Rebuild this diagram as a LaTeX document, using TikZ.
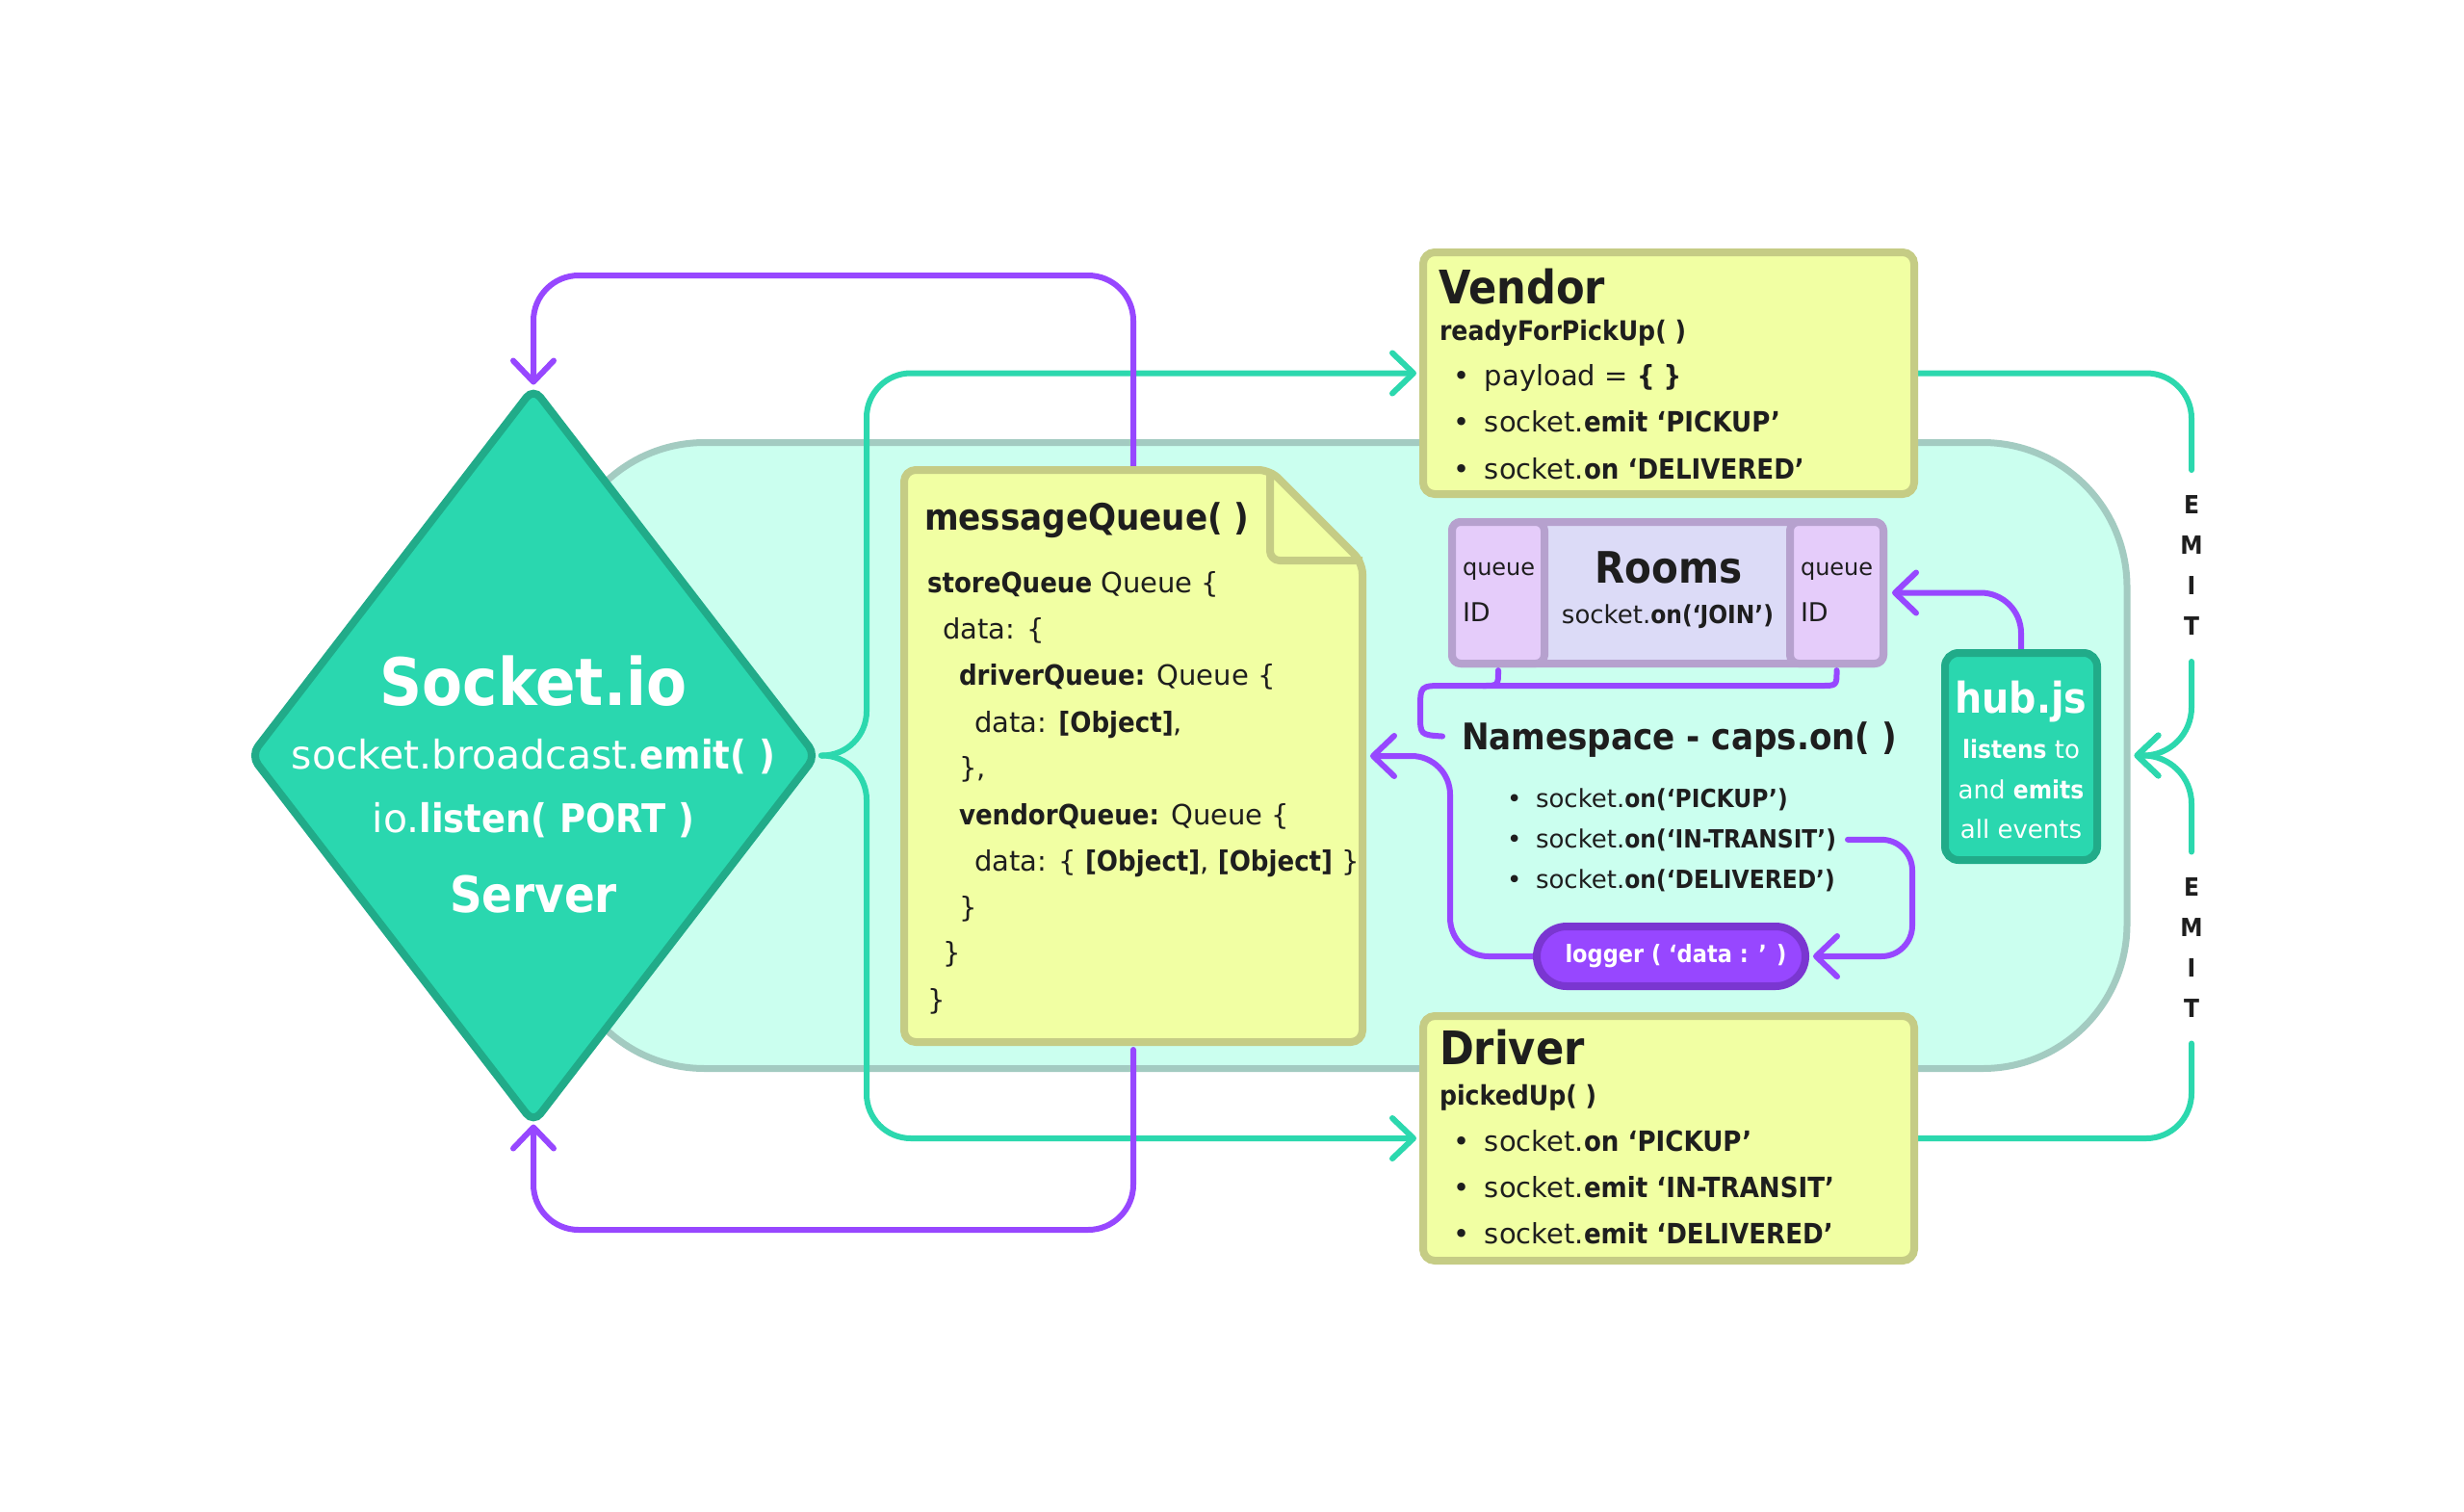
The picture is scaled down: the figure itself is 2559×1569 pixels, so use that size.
\documentclass[tikz,border=0pt]{standalone}
\usepackage{fontspec}
\setmainfont{DejaVu Sans}[BoldFont={DejaVu Sans Bold},BoldFeatures={FakeStretch=0.9}]
\usetikzlibrary{shapes.geometric,arrows.meta,calc}
\definecolor{tealf}{HTML}{2AD7AF}
\definecolor{teald}{HTML}{21AB89}
\definecolor{grnc}{HTML}{2CD8AE}
\definecolor{cyanbg}{HTML}{CBFFEF}
\definecolor{cyanbd}{HTML}{A3CBC1}
\definecolor{yelf}{HTML}{F1FFA3}
\definecolor{yeld}{HTML}{C5CC85}
\definecolor{purc}{HTML}{9747FF}
\definecolor{purd}{HTML}{7A36D1}
\definecolor{roomf}{HTML}{DCDBF7}
\definecolor{roomside}{HTML}{E5CCFA}
\definecolor{roomd}{HTML}{B6A1CE}
\definecolor{txtc}{HTML}{1E1E1E}
\pgfdeclarelayer{bgA}
\pgfdeclarelayer{bgB}
\pgfsetlayers{bgA,bgB,main}
\newcommand\myfs[1]{\fontsize{#1}{#1}\selectfont}
\tikzset{
 dtxt/.style={inner sep=0pt, outer sep=0pt, anchor=base west, text=txtc},
 wtxt/.style={inner sep=0pt, outer sep=0pt, anchor=base, text=white},
 ybox/.style={draw=yeld, fill=yelf, line width=8pt, rounded corners=12pt, inner sep=0pt},
 rbox/.style={draw=roomd, line width=8pt, rounded corners=9pt, inner sep=0pt},
 gline/.style={draw=grnc, line width=6pt, line cap=round, line join=round},
 pline/.style={draw=purc, line width=6pt, line cap=round, line join=round},
 barb/.style={-{Straight Barb[length=22pt,width=42pt,round]}},
 emitlbl/.style={inner sep=0pt, outer sep=0pt, minimum height=199pt, align=center, text=txtc, font=\fontsize{26}{42}\selectfont\bfseries}
}
\begin{document}
\begin{tikzpicture}[x=1pt,y=-1pt]
\begin{pgfonlayer}{bgA}
\fill[white] (0,0) rectangle (2559,1569);
\node[draw=cyanbd, fill=cyanbg, line width=7pt, rounded corners=150pt, minimum width=1627pt, minimum height=650pt, inner sep=0pt] (ns) at (1395.5,784.5) {};
\end{pgfonlayer}
\useasboundingbox (0,0) rectangle (2559,1569);

% ---------- Socket.io server ----------
\node[diamond, draw=teald, fill=tealf, line width=8pt, minimum width=590pt, minimum height=766pt, inner sep=0pt, rounded corners=12pt] (diamond) at (554,784.5) {};
\node[wtxt] (sio) at (554,732) {\myfs{68}\bfseries Socket.io};
\node[wtxt] (sbe) at (554,798) {\myfs{41}socket.broadcast.\textbf{emit( )}};
\node[wtxt] (iol) at (554,864) {\myfs{41}io.\textbf{listen( PORT )}};
\node[wtxt] (srv) at (554,947) {\myfs{52}\bfseries Server};

% ---------- messageQueue ----------
\node[inner sep=0pt, outer sep=0pt, minimum width=484pt, minimum height=602pt] (mq) at (1177,785) {};
\draw[draw=yeld, fill=yelf, line width=8pt, rounded corners=12pt, line join=round]
  ($(mq.north west)+(4,4)$) -- ($(mq.north east)+(-100,4)$) -- ($(mq.north east)+(-4,100)$)
  -- ($(mq.south east)+(-4,-4)$) -- ($(mq.south west)+(4,-4)$) -- cycle;
\draw[draw=yeld, line width=8pt, rounded corners=10pt, line join=round]
  ($(mq.north east)+(-100,4)$) -- ($(mq.north east)+(-100,98)$) -- ($(mq.north east)+(-4,98)$);
\node[dtxt] (mqt) at (960,550) {\myfs{38}\bfseries messageQueue( )};
\node[dtxt] (mq1) at (963,615) {\myfs{29}\textbf{storeQueue} Queue \{};
\node[dtxt] (mq2) at (979,663) {\myfs{29}data: \{};
\node[dtxt] (mq3) at (996,711) {\myfs{29}\textbf{driverQueue:} Queue \{};
\node[dtxt] (mq4) at (1012,760) {\myfs{29}data: \textbf{[Object]},};
\node[dtxt] (mq5) at (996,807) {\myfs{29}\},};
\node[dtxt] (mq6) at (996,856) {\myfs{29}\textbf{vendorQueue:} Queue \{};
\node[dtxt] (mq7) at (1012,904) {\myfs{29}data: \{ \textbf{[Object]}, \textbf{[Object]} \}};
\node[dtxt] (mq8) at (996,952) {\myfs{29}\}};
\node[dtxt] (mq9) at (979,999) {\myfs{29}\}};
\node[dtxt] (mq10) at (963,1048) {\myfs{29}\}};

% ---------- Vendor ----------
\node[ybox, minimum width=510pt, minimum height=251pt] (vendor) at (1733,387.5) {};
\node[dtxt] (vt) at (1494,315) {\myfs{48}\bfseries Vendor};
\node[dtxt] (vf) at (1495,353) {\myfs{28}\bfseries readyForPickUp( )};
\node[dtxt] (vb1) at (1509.5,400) {\myfs{29}\makebox[32.5pt][l]{•}payload = \textbf{\{ \}}};
\node[dtxt] (vb2) at (1509.5,448) {\myfs{29}\makebox[32.5pt][l]{•}socket.\textbf{emit ‘PICKUP’}};
\node[dtxt] (vb3) at (1509.5,497) {\myfs{29}\makebox[32.5pt][l]{•}socket.\textbf{on ‘DELIVERED’}};

% ---------- Driver ----------
\node[ybox, minimum width=510pt, minimum height=254pt] (driver) at (1733,1182) {};
\node[dtxt] (dt) at (1495,1105) {\myfs{48}\bfseries Driver};
\node[dtxt] (df) at (1495,1147) {\myfs{28}\bfseries pickedUp( )};
\node[dtxt] (db1) at (1509.5,1195) {\myfs{29}\makebox[32.5pt][l]{•}socket.\textbf{on ‘PICKUP’}};
\node[dtxt] (db2) at (1509.5,1243) {\myfs{29}\makebox[32.5pt][l]{•}socket.\textbf{emit ‘IN-TRANSIT’}};
\node[dtxt] (db3) at (1509.5,1291) {\myfs{29}\makebox[32.5pt][l]{•}socket.\textbf{emit ‘DELIVERED’}};

% ---------- Rooms ----------
\node[rbox, fill=roomf, minimum width=448pt, minimum height=147pt] (rooms) at (1732,615.5) {};
\node[rbox, fill=roomside, minimum width=96pt, minimum height=147pt] (lpanel) at (1556,615.5) {};
\node[rbox, fill=roomside, minimum width=97pt, minimum height=147pt] (rpanel) at (1907.5,615.5) {};
\node[dtxt, anchor=base] (roomt) at (1733,605) {\myfs{45}\bfseries Rooms};
\node[dtxt, anchor=base] (roomj) at (1732,647) {\myfs{26}socket.\textbf{on(‘JOIN’)}};
\node[dtxt] (lq) at (1519,597) {\myfs{24}queue};
\node[dtxt] (lid) at (1519,645) {\myfs{27}ID};
\node[dtxt] (rq) at (1870,597) {\myfs{24}queue};
\node[dtxt] (rid) at (1870,645) {\myfs{27}ID};

% ---------- Namespace ----------
\node[dtxt] (nstitle) at (1518,778) {\myfs{38}\bfseries Namespace - caps.on( )};
\node[dtxt] (nsb1) at (1565,838) {\myfs{26}\makebox[30pt][l]{•}socket.\textbf{on(‘PICKUP’)}};
\node[dtxt] (nsb2) at (1565,880) {\myfs{26}\makebox[30pt][l]{•}socket.\textbf{on(‘IN-TRANSIT’)}};
\node[dtxt] (nsb3) at (1565,922) {\myfs{26}\makebox[30pt][l]{•}socket.\textbf{on(‘DELIVERED’)}};
\node[draw=purd, fill=purc, line width=8pt, rounded corners=31pt, minimum width=279pt, minimum height=62pt, inner sep=0pt, text=white, font=\myfs{25}\bfseries] (logger) at (1735.5,993) {\hspace{10pt}logger ( ‘data : ’ )};

% ---------- hub.js ----------
\node[draw=teald, fill=tealf, line width=8pt, rounded corners=14pt, minimum width=158pt, minimum height=215pt, inner sep=0pt] (hub) at (2099,785.5) {};
\node[wtxt] (hubt) at (2099,740) {\myfs{44}\bfseries hub.js};
\node[wtxt] (hub1) at (2099,787) {\myfs{26}\textbf{listens} to};
\node[wtxt] (hub2) at (2099,829) {\myfs{26}and \textbf{emits}};
\node[wtxt] (hub3) at (2099,870) {\myfs{26}all events};

% ---------- EMIT labels ----------
\node[emitlbl] (emit1) at (2276,587.5) {E\\M\\I\\T};
\node[emitlbl] (emit2) at (2276,984) {E\\M\\I\\T};

% ---------- connectors ----------
\coordinate (gx) at (900,784.5);
\begin{pgfonlayer}{bgB}
\draw[gline, barb, rounded corners=46pt, shorten >=3pt] (diamond.east) -| (gx |- vendor.west) -- (vendor.west);
\draw[gline, barb, rounded corners=46pt, shorten >=3pt] (diamond.east) -| (gx |- driver.west) -- (driver.west);
\draw[gline, rounded corners=47pt] (vendor.east) -| (emit1.north);
\draw[gline, barb, rounded corners=50pt, shorten >=4pt] (emit1.south) |- (ns.east);
\draw[gline, barb, rounded corners=50pt, shorten >=4pt] (emit2.north) |- (ns.east);
\draw[gline, rounded corners=47pt] (driver.east) -| (emit2.south);
\draw[pline, barb, rounded corners=47pt, shorten >=-2pt] (mq.north) -- ++(0,-198) -| (diamond.north);
\draw[pline, barb, rounded corners=47pt, shorten <=4pt, shorten >=-4pt] (mq.south) -- ++(0,191) -| (diamond.south);
\draw[pline, barb, rounded corners=42pt, shorten >=5pt] (hub.north) |- (rooms.east);
\draw[pline] ($(rpanel.south)+(0,3)$) .. controls ($(rpanel.south)+(0,19)$) .. ($(rpanel.south)+(-16,19)$)
  -- (1500,712) .. controls (1475,712) .. (1475,737) -- (1475,742) .. controls (1475,763) .. ($(nstitle.west)+(-20,-3)$);
\draw[pline] ($(lpanel.south)+(0,3)$) .. controls ($(lpanel.south)+(0,19)$) .. ($(lpanel.south)+(-16,19)$);
\draw[pline, barb, rounded corners=32pt, shorten >=4pt] ($(nsb2.east)+(12,0)$) -| ($(logger.east)+(107,0)$) -- (logger.east);
\draw[pline, barb, rounded corners=40pt, shorten >=4pt] (logger.west) -| ($(mq.east)+(87,0)$) -- (mq.east);
\end{pgfonlayer}
\end{tikzpicture}
\end{document}
